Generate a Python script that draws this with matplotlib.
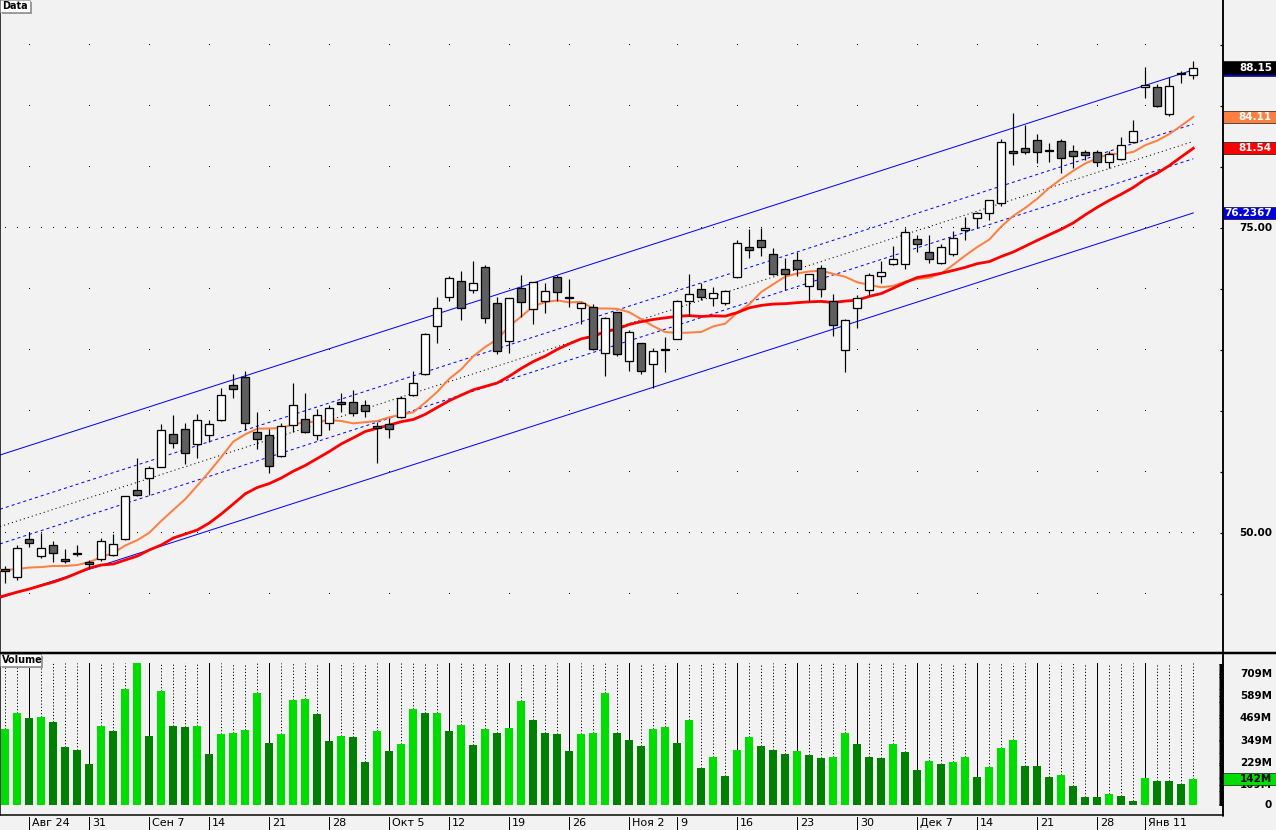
import numpy as np
import matplotlib
matplotlib.use("Agg")
import matplotlib.pyplot as plt
from matplotlib.patches import Rectangle
from matplotlib.lines import Line2D
import matplotlib.transforms as mtrans

plt.rcParams['font.family'] = ['DejaVu Sans']
plt.rcParams['lines.scale_dashes'] = False

# ---------------- data ----------------
opens = [47.02, 46.42, 49.48, 48.14, 48.99, 47.84, 48.36, 47.62, 47.84, 48.17,
         49.48, 53.50, 54.48, 55.43, 58.09, 58.50, 57.27, 58.01, 59.24, 62.13,
         62.76, 58.25, 58.01, 56.29, 58.85, 59.32, 58.01, 58.99, 60.71, 60.71,
         60.47, 58.65, 58.93, 59.48, 61.29, 63.01, 66.94, 69.32, 70.63, 69.92,
         71.78, 68.83, 65.71, 70.06, 68.34, 69.04, 70.96, 69.28, 68.47, 68.50,
         64.73, 68.09, 64.07, 65.55, 63.83, 64.98, 65.90, 68.99, 69.98, 69.26,
         68.83, 70.96, 73.42, 73.99, 72.84, 71.61, 72.35, 70.22, 71.70, 68.99,
         64.98, 68.42, 69.89, 71.04, 72.02, 72.02, 74.07, 73.01, 72.11, 72.84,
         74.81, 75.80, 76.20, 77.02, 81.20, 81.53, 82.19, 81.39, 82.11, 81.29,
         81.20, 81.20, 80.39, 80.63, 82.02, 86.53, 86.53, 84.32, 87.60, 87.52]
highs = [47.30, 48.99, 50.08, 50.02, 49.32, 48.69, 49.02, 47.79, 49.61, 49.89,
         53.06, 56.17, 55.49, 58.93, 59.67, 59.04, 59.75, 59.26, 61.91, 63.03,
         63.28, 59.89, 58.52, 58.99, 62.30, 61.45, 60.16, 60.49, 61.45, 61.72,
         60.90, 59.12, 59.40, 61.23, 63.28, 66.39, 69.34, 71.07, 71.48, 72.30,
         71.97, 69.32, 69.26, 71.15, 70.60, 70.47, 71.15, 70.80, 68.96, 68.75,
         67.68, 68.14, 66.64, 65.60, 65.14, 66.04, 69.10, 71.23, 70.47, 70.19,
         69.92, 74.02, 74.89, 75.00, 73.36, 72.57, 73.01, 71.22, 71.97, 69.57,
         67.52, 69.51, 71.29, 72.30, 73.52, 75.00, 74.40, 74.40, 73.66, 74.73,
         75.90, 76.34, 77.30, 82.27, 84.40, 83.44, 82.68, 81.94, 82.27, 81.78,
         81.37, 81.37, 81.29, 82.43, 83.85, 88.17, 86.80, 87.35, 87.89, 88.66]
lows = [45.93, 46.15, 48.83, 47.98, 47.65, 47.52, 48.11, 47.11, 47.70, 48.11,
        49.43, 53.07, 53.11, 55.38, 56.99, 55.66, 56.17, 57.48, 59.21, 61.09,
        58.44, 56.86, 54.89, 56.26, 58.30, 58.17, 57.62, 58.44, 59.92, 59.61,
        59.53, 55.71, 57.81, 59.45, 61.25, 62.98, 65.60, 69.04, 67.46, 69.65,
        67.24, 64.67, 64.78, 67.73, 67.13, 68.06, 69.04, 68.50, 67.11, 65.00,
        62.89, 64.53, 63.30, 63.06, 61.86, 63.22, 65.88, 67.79, 69.10, 68.61,
        68.69, 70.90, 72.57, 72.73, 71.15, 69.89, 71.09, 68.91, 69.37, 66.17,
        63.22, 66.83, 69.51, 70.47, 71.94, 71.61, 73.06, 72.16, 72.07, 72.73,
        73.99, 74.98, 75.68, 76.83, 80.14, 81.09, 80.30, 80.43, 79.48, 79.89,
        80.55, 80.06, 79.89, 80.55, 81.94, 85.63, 84.94, 84.16, 86.86, 87.24]
closes = [46.86, 48.75, 49.16, 48.75, 48.34, 47.68, 48.25, 47.46, 49.32, 49.07,
          53.01, 53.09, 55.30, 58.42, 57.35, 56.53, 59.24, 58.91, 61.31, 61.78,
          58.99, 57.68, 55.47, 58.75, 60.47, 58.25, 59.65, 60.22, 60.60, 59.81,
          59.98, 58.63, 58.50, 61.04, 62.27, 66.29, 68.42, 70.88, 68.42, 70.47,
          67.60, 64.94, 69.24, 68.96, 70.55, 69.84, 69.78, 69.25, 68.83, 65.06,
          67.60, 64.65, 66.45, 63.25, 64.89, 64.97, 69.02, 69.59, 69.32, 69.65,
          69.84, 73.75, 73.20, 73.42, 71.20, 71.20, 71.61, 71.20, 69.98, 67.02,
          67.43, 69.24, 71.12, 71.37, 72.43, 74.65, 73.66, 72.43, 73.42, 74.16,
          74.98, 76.20, 77.27, 82.02, 81.19, 81.20, 81.20, 81.29, 80.71, 80.88,
          80.96, 80.39, 81.04, 81.78, 82.93, 86.72, 84.98, 86.61, 87.59, 88.15]
volumes = [412, 498, 471, 477, 450, 315, 299, 223, 428, 401,
           628, 768, 374, 617, 428, 423, 428, 277, 385, 390,
           407, 607, 336, 385, 569, 572, 493, 348, 374, 369,
           234, 401, 293, 331, 520, 498, 500, 401, 434, 326,
           412, 390, 417, 563, 461, 390, 385, 293, 385, 388,
           607, 390, 353, 320, 412, 423, 336, 461, 201, 261,
           158, 299, 369, 320, 299, 277, 293, 272, 256, 261,
           390, 331, 261, 258, 331, 288, 191, 239, 223, 234,
           261, 153, 207, 309, 353, 212, 210, 153, 164, 104,
           46, 45, 61, 52, 23, 150, 131, 130, 116, 142]
ma10_head = [46.97, 47.05, 47.17, 47.21, 47.30, 47.30, 47.38, 47.62, 48.03]
ma21_head = [44.88, 45.16, 45.41, 45.70, 45.98, 46.31, 46.72, 47.13, 47.38, 47.46,
             47.79, 48.11, 48.61, 49.02, 49.59, 49.92, 50.25, 50.82, 51.56, 52.38]
reg_first, reg_last = 50.67, 82.10     # regression line at first / last bar
band_inner, band_outer = 1.42, 5.8633
week_idx = [2, 7, 12, 17, 22, 27, 32, 37, 42, 47, 52, 56, 61, 66, 71, 76, 81, 86, 91, 95]
week_labels = ['Авг 24', '31', 'Сен 7', '14', '21', '28', 'Окт 5', '12', '19', '26',
               'Ноя 2', '9', '16', '23', '30', 'Дек 7', '14', '21', '28', 'Янв 11']
vol_ticks = [0, 109, 229, 349, 469, 589, 709]

# ---------------- layout ----------------
W, H = 1276, 830
DPI = 100
PT = 72.0 / DPI
BG = '#f2f2f2'
fig = plt.figure(figsize=(W / DPI, H / DPI), dpi=DPI, facecolor=BG)

def rect(x0, y0, x1, y1):
    return [x0 / W, 1 - y1 / H, (x1 - x0) / W, (y1 - y0) / H]

axp = fig.add_axes(rect(0, 0, 1223, 651))
axv = fig.add_axes(rect(0, 655, 1223, 815))
for a in (axp, axv):
    a.set_facecolor(BG)
    for s in a.spines.values():
        s.set_visible(False)
    a.spines['left'].set_visible(True)
    a.spines['left'].set_linewidth(1.5 * PT)

n = len(closes)
k = np.arange(n)
o = np.array(opens); c = np.array(closes); h = np.array(highs); l = np.array(lows)
v = np.array(volumes, dtype=float)

XL = (-0.44, 101.475)
axp.set_xlim(*XL); axv.set_xlim(*XL)
axp.set_ylim(40.33, 93.69)
axv.set_ylim(-52, 811)

# grid dots in the price panel
levels = np.arange(45, 95, 5)
for lv in levels:
    xs = k if lv in (50, 75) else np.array(week_idx)
    axp.plot(xs, np.full(len(xs), lv), linestyle='none', marker=',', color='black', zorder=1)

# regression channel
xr = np.array([XL[0], n - 1])
base = reg_first + (reg_last - reg_first) / (n - 1) * xr
axp.plot(xr, base + band_outer, color='#0000ff', lw=1.0 * PT, zorder=2)
axp.plot(xr, base - band_outer, color='#0000ff', lw=1.0 * PT, zorder=2)
axp.plot(xr, base + band_inner, color='#0000ff', lw=1.0 * PT, dashes=(2.2, 2.2), zorder=2)
axp.plot(xr, base - band_inner, color='#0000ff', lw=1.0 * PT, dashes=(2.2, 2.2), zorder=2)
axp.plot(xr, base, color='black', lw=1.0 * PT, dashes=(0.8, 2.2), zorder=2)

# moving averages
ma10 = np.full(n, np.nan); ma21 = np.full(n, np.nan)
for i in range(n):
    if i >= 9:
        ma10[i] = c[i - 9:i + 1].mean()
    if i >= 20:
        ma21[i] = c[i - 20:i + 1].mean()
ma10[:9] = ma10_head
ma21[:20] = ma21_head
xm = np.concatenate([[XL[0]], k])
axp.plot(xm, np.concatenate([[ma10[0]], ma10]), color='#ff7f40', lw=2.0 * PT, zorder=3)
axp.plot(xm, np.concatenate([[ma21[0] - 0.12], ma21]), color='#ff0000', lw=2.8 * PT, zorder=3)

# candles
bw = 8 / 12.0
axp.vlines(k, l, h, color='black', lw=1.2 * PT, zorder=4)
up = c >= o
body_lo = np.minimum(o, c)
body_h = np.maximum(np.abs(c - o), 0.12)
axp.bar(k, body_h, bottom=body_lo, width=bw,
        color=np.where(up, '#ffffff', '#5f5f5f'), edgecolor='black',
        linewidth=1.3 * PT, zorder=5)

# price axis (right)
axp.yaxis.tick_right()
axp.set_yticks(levels)
axp.set_yticklabels([])
axp.tick_params(axis='y', direction='in', length=3 * PT, width=1.2 * PT, right=True)
axp.set_xticks([])
axp.spines['right'].set_visible(True)
axp.spines['right'].set_linewidth(1.5 * PT)

blend_p = mtrans.blended_transform_factory(axp.transAxes, axp.transData)
xr_lab = 1272 / 1223.0
for lv in (75, 50):
    axp.text(xr_lab, lv, f'{lv:.2f}', transform=blend_p, ha='right', va='center',
             fontsize=7.5, fontweight='bold', clip_on=False)

_z = [10]
def tag(ax, blend, y, txt, fc, tc, hgt):
    z = _z[0]; _z[0] += 2
    ax.add_patch(Rectangle((1.0, y - hgt / 2), 53 / 1223.0, hgt, transform=blend,
                           facecolor=fc, edgecolor='black', lw=0.6 * PT, clip_on=False, zorder=z))
    ax.text(xr_lab, y, txt, transform=blend, ha='right', va='center', fontsize=7.5,
            fontweight='bold', color=tc, clip_on=False, zorder=z + 1)

upper_last = reg_last + band_outer
lower_last = reg_last - band_outer
tag(axp, blend_p, upper_last, f'{upper_last:.2f}', '#0000dd', 'white', 1.0)
tag(axp, blend_p, c[-1], f'{c[-1]:.2f}', 'black', 'white', 1.0)
tag(axp, blend_p, ma10[-1], f'{ma10[-1]:.2f}', '#ff7f40', 'white', 1.0)
tag(axp, blend_p, ma21[-1], f'{ma21[-1]:.2f}', '#ff0000', 'white', 1.0)
tag(axp, blend_p, lower_last, f'{lower_last:.4f}', '#0000dd', 'white', 1.0)

# volume panel
vtop = 766
for i in k:
    solid = i in week_idx
    axv.plot([i, i], [v[i], vtop], color='black', lw=1.0 * PT,
             dashes=(None, None) if solid else (0.8, 1.5), zorder=1)
vup = np.concatenate([[True], v[1:] >= v[:-1]])
axv.bar(k, v, width=bw, color=np.where(vup, '#00dd00', '#008000'), zorder=2)
axv.yaxis.tick_right()
axv.set_yticks(vol_ticks)
axv.set_yticks(np.arange(0, 770, 5), minor=True)
axv.set_yticklabels([])
axv.tick_params(axis='y', which='both', direction='in', length=4 * PT, width=1.0 * PT)
axv.set_xticks([])
axv.spines['right'].set_visible(True)
axv.spines['right'].set_linewidth(1.5 * PT)
axv.spines['bottom'].set_visible(True)
axv.spines['bottom'].set_linewidth(1.5 * PT)
blend_v = mtrans.blended_transform_factory(axv.transAxes, axv.transData)
for t in vol_ticks:
    axv.text(xr_lab, t, '0' if t == 0 else f'{t}M', transform=blend_v, ha='right',
             va='center', fontsize=7.5, fontweight='bold', clip_on=False)
tag(axv, blend_v, v[-1], f'{int(v[-1])}M', '#00dd00', 'black', 64)

# date strip
blend_d = mtrans.blended_transform_factory(axv.transData, axv.transAxes)
for i, lab in zip(week_idx, week_labels):
    axv.add_line(Line2D([i, i], [-0.01, -0.0938], transform=blend_d, color='black',
                        lw=1.0 * PT, clip_on=False))
    axv.annotate(lab, xy=(i, -0.05), xycoords=blend_d, xytext=(2, 0),
                 textcoords='offset points', ha='left', va='center', fontsize=8,
                 annotation_clip=False)

# panel separators / frame
fig.add_artist(Line2D([0, 1], [1 - 652.5 / H] * 2, color='black', lw=2.5 * PT))
fig.add_artist(Line2D([1223 / W] * 2, [1 - 816 / H, 1], color='black', lw=1.5 * PT))

# panel captions
def caption(x0, y0, txt, wpx):
    fig.add_artist(Rectangle(((x0 + 2) / W, 1 - (y0 + 14) / H), wpx / W, 12 / H,
                             facecolor='#9a9a9a', edgecolor='none', transform=fig.transFigure))
    fig.add_artist(Rectangle((x0 / W, 1 - (y0 + 12) / H), wpx / W, 12 / H,
                             facecolor='white', edgecolor='#808080', lw=0.6 * PT,
                             transform=fig.transFigure))
    fig.text((x0 + 2) / W, 1 - (y0 + 6) / H, txt, ha='left', va='center', fontsize=7,
             fontweight='bold')

caption(0, 0, 'Data', 30)
caption(0, 654, 'Volume', 41)

fig.savefig('out.png', dpi=DPI, facecolor=BG)
